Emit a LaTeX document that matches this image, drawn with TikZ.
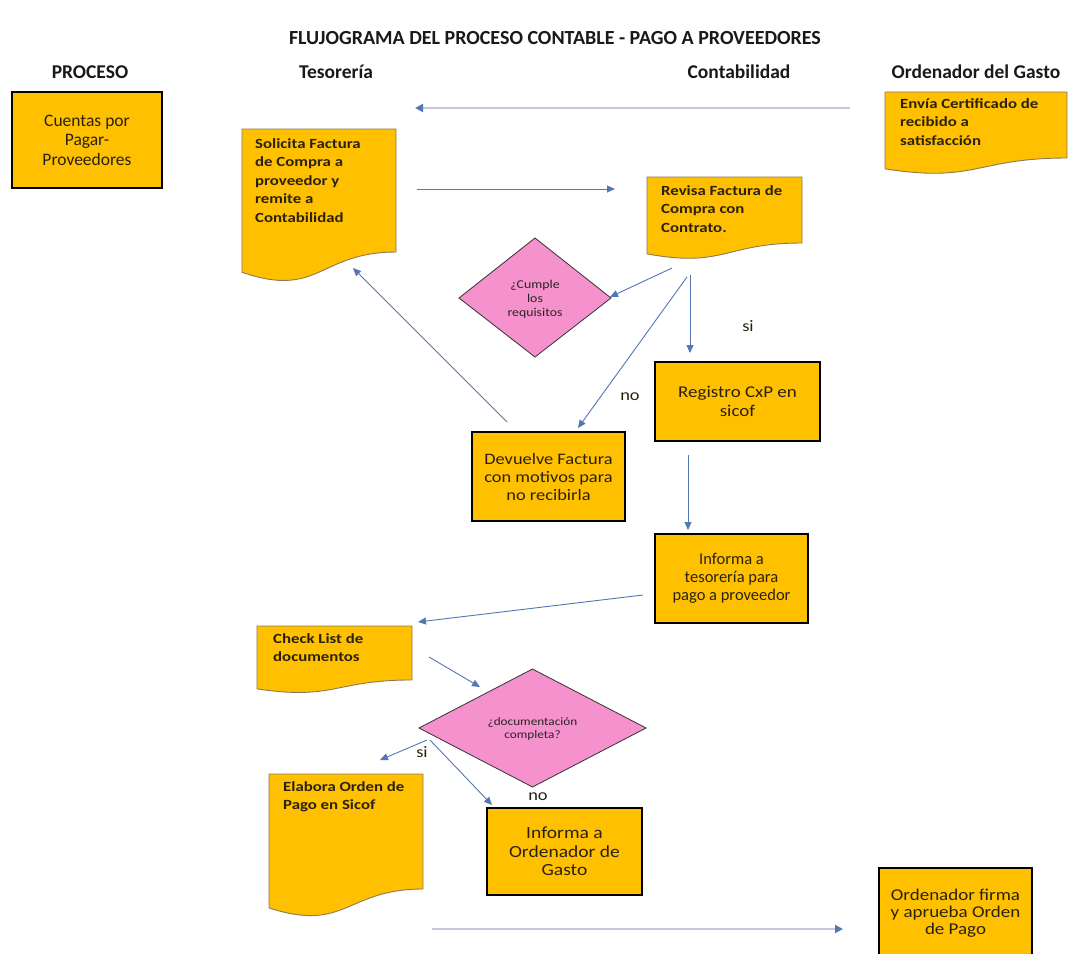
\documentclass[tikz,border=0pt]{standalone}
\usepackage{fontspec}
\setmainfont{Carlito}
\newfontfamily\wfont[FakeStretch=1.15]{Carlito}
\newfontfamily\dfont[FakeStretch=1.2]{Carlito}
\usetikzlibrary{arrows.meta}
\definecolor{boxfill}{HTML}{FFC000}
\definecolor{pinkfill}{HTML}{F591CC}
\definecolor{arrowblue}{HTML}{5577B5}
\definecolor{palearrow}{HTML}{C3C9DE}
\definecolor{txt}{HTML}{2A2110}
\definecolor{docedge}{HTML}{8C7A55}
\tikzset{
 rbox/.style={draw=black, line width=1.3pt, fill=boxfill, align=center, font=\wfont\fontsize{16.5}{18.5}\selectfont, text=txt, inner sep=0pt},
 cbox/.style={rbox, line width=2pt, font=\fontsize{17.5}{19.5}\selectfont},
 docshape/.style={draw=docedge, line width=0.9pt, fill=boxfill},
 doctext/.style={anchor=north west, align=left, inner sep=0pt, font=\dfont\bfseries\fontsize{14}{18.5}\selectfont, text=txt},
 dia/.style={draw=black!80, line width=0.8pt, fill=pinkfill},
 diatext/.style={align=center, inner sep=0pt, font=\wfont\fontsize{12}{14}\selectfont, text=black!85},
 flow/.style={draw=arrowblue, line width=0.9pt, -{Triangle[length=8pt,width=7pt]}},
 longflow/.style={draw=palearrow, line width=2.6pt, -{Triangle[length=8pt,width=8pt,color=arrowblue]}},
 lbl/.style={font=\wfont\fontsize{16}{18}\selectfont, text=txt, inner sep=0pt},
 hdr/.style={font=\bfseries\fontsize{19.5}{21}\selectfont, inner sep=0pt, text=black!90},
}
% name, x, y, w, h, padx, pady, text
\newcommand\docbox[8]{%
 \draw[docshape] (#2,#3) -- (#2+#4,#3) -- (#2+#4,#3+0.802*#5)
   .. controls (#2+0.5*#4,#3+0.802*#5) and (#2+0.5*#4,#3+1.108*#5) .. (#2,#3+0.934*#5) -- cycle;
 \node[doctext] (#1) at (#2+#6,#3+#7) {#8};
}
\begin{document}
\begin{tikzpicture}[x=1pt,y=-1pt]
\useasboundingbox (0,0) rectangle (1068,953);
\clip (0,0) rectangle (1068,953);
\fill[white] (0,0) rectangle (1068,953);

% title and headers
\node[font=\bfseries\fontsize{20}{22}\selectfont, text=black!90] (title) at (555,38) {FLUJOGRAMA DEL PROCESO CONTABLE - PAGO A PROVEEDORES};
\node[hdr] (hproc) at (90,72) {PROCESO};
\node[hdr] (htes) at (336,72) {Tesorería};
\node[hdr] (hcont) at (739,72) {Contabilidad};
\node[hdr] (hord) at (976,72) {Ordenador del Gasto};

% boxes
\node[cbox, minimum width=150pt, minimum height=96pt] (cuentas) at (87,140) {Cuentas por\\Pagar-\\Proveedores};
\docbox{solicita}{242}{129}{154}{153.4}{13}{9}{Solicita Factura\\de Compra a\\proveedor y\\remite a\\Contabilidad}
\docbox{envia}{885}{92}{182}{82.3}{15}{6}{Envía Certificado de\\recibido a\\satisfacción}
\docbox{revisa}{647}{177}{155}{82.3}{14}{8}{Revisa Factura de\\Compra con\\Contrato.}

\draw[dia] (459,298) -- (535,238) -- (611,298) -- (535,357) -- cycle;
\node[diatext] (cumple) at (535,299) {¿Cumple\\los\\requisitos};

\node[rbox, minimum width=165pt, minimum height=79pt, font=\wfont\fontsize{16.5}{19}\selectfont] (registro) at (737.5,401.5) {Registro CxP en\\sicof};
\node[rbox, minimum width=153pt, minimum height=89pt, font=\wfont\fontsize{16}{18}\selectfont] (devuelve) at (548.5,476.5) {Devuelve Factura\\con motivos para\\no recibirla};
\node[rbox, minimum width=153pt, minimum height=89pt, font=\fontsize{16.5}{18}\selectfont] (informa) at (731.5,578.5) {Informa a\\tesorería para\\pago a proveedor};

\docbox{check}{257}{626}{155}{67.3}{16}{7}{Check List de\\documentos}

\draw[dia] (419,728) -- (532.5,669) -- (646,728) -- (532.5,787) -- cycle;
\node[diatext, font=\wfont\fontsize{11.5}{12.5}\selectfont] (docu) at (532.5,729) {¿documentación\\completa?};

\docbox{elabora}{269}{774}{154}{143.4}{14}{7}{Elabora Orden de\\Pago en Sicof}
\node[rbox, minimum width=155pt, minimum height=87pt, font=\wfont\fontsize{17}{18.5}\selectfont] (inford) at (564.5,851.5) {Informa a\\Ordenador de\\Gasto};
\node[rbox, minimum width=153pt, minimum height=90pt, font=\wfont\fontsize{16.5}{16.8}\selectfont] (firma) at (955.5,913) {Ordenador firma\\y aprueba Orden\\de Pago};

% connector end points
\coordinate (a1s) at (850,108); \coordinate (a1e) at (415,108);
\coordinate (a2s) at (417,189); \coordinate (a2e) at (615,189);
\coordinate (a3s) at (672,268); \coordinate (a3e) at (610,297);
\coordinate (a4s) at (690,275); \coordinate (a4e) at (690,353);
\coordinate (a5s) at (687,277); \coordinate (a5e) at (578,428);
\coordinate (a6s) at (507,422); \coordinate (a6e) at (353,268);
\coordinate (a7s) at (688,455); \coordinate (a7e) at (688,530);
\coordinate (a8s) at (643,595); \coordinate (a8e) at (418,622);
\coordinate (a9s) at (429,657); \coordinate (a9e) at (480,687);
\coordinate (a10s) at (427,740); \coordinate (a10e) at (380,760);
\coordinate (a11s) at (430,740); \coordinate (a11e) at (492,805);
\coordinate (a12s) at (432,929); \coordinate (a12e) at (843,929);

\draw[longflow] (a1s) -- (a1e);
\draw[flow] (a2s) -- (a2e);
\draw[flow] (a3s) -- (a3e);
\draw[flow] (a4s) -- (a4e);
\draw[flow] (a5s) -- (a5e);
\draw[flow] (a6s) -- (a6e);
\draw[flow] (a7s) -- (a7e);
\draw[flow] (a8s) -- (a8e);
\draw[flow] (a9s) -- (a9e);
\draw[flow] (a10s) -- (a10e);
\draw[flow] (a11s) -- (a11e);
\draw[longflow] (a12s) -- (a12e);

% labels
\node[lbl] (lsi1) at (748,326) {si};
\node[lbl] (lno1) at (630,397) {no};
\node[lbl] (lsi2) at (422,752) {si};
\node[lbl] (lno2) at (538,797) {no};
\end{tikzpicture}
\end{document}
